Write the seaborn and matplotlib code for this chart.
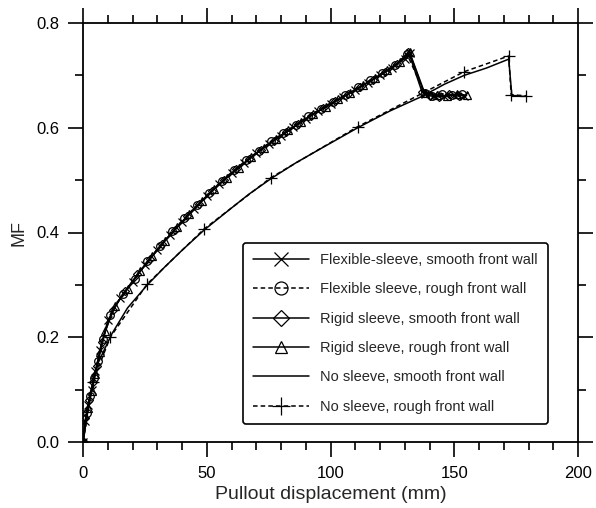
import matplotlib
matplotlib.use("Agg")
import matplotlib.pyplot as plt
import seaborn as sns
import pandas as pd
from matplotlib.ticker import MultipleLocator

# ---------------- data ----------------
labels = ["Flexible-sleeve, smooth front wall",
          "Flexible sleeve, rough front wall",
          "Rigid sleeve, smooth front wall",
          "Rigid sleeve, rough front wall",
          "No sleeve, smooth front wall",
          "No sleeve, rough front wall"]

flex_smooth_x = [0, 1, 2, 3.5, 5, 7, 10, 15, 20, 25, 30, 35, 40, 45, 50, 55, 60, 65, 70, 75, 80,
                 85, 90, 95, 100, 105, 110, 115, 120, 125, 130, 132, 138, 142, 146, 150, 154]
flex_smooth_y = [0.000, 0.040, 0.070, 0.100, 0.135, 0.175, 0.232, 0.274, 0.305, 0.338, 0.367,
                 0.395, 0.420, 0.445, 0.470, 0.492, 0.513, 0.532, 0.551, 0.569, 0.585, 0.601,
                 0.617, 0.632, 0.645, 0.659, 0.672, 0.686, 0.700, 0.715, 0.732, 0.742,
                 0.664, 0.662, 0.660, 0.663, 0.661]

flex_rough_x = [0, 1.5, 3, 4.5, 6, 8, 11, 16, 21, 26, 31, 36, 41, 46, 51, 56, 61, 66, 71, 76, 81,
                86, 91, 96, 101, 106, 111, 116, 121, 126, 131, 138, 141, 145, 149, 153]
flex_rough_y = [0.000, 0.055, 0.088, 0.122, 0.155, 0.197, 0.243, 0.282, 0.312, 0.345, 0.374,
                0.403, 0.427, 0.452, 0.476, 0.498, 0.519, 0.538, 0.556, 0.574, 0.590, 0.606,
                0.622, 0.636, 0.650, 0.663, 0.677, 0.691, 0.705, 0.720, 0.740,
                0.666, 0.660, 0.665, 0.662, 0.664]

rigid_smooth_x = [0, 1, 2.5, 4, 5.5, 7.5, 12, 17, 22, 27, 32, 37, 42, 47, 52, 57, 62, 67, 72, 77,
                  82, 87, 92, 97, 102, 107, 112, 117, 122, 127, 131.5, 137, 140, 144, 148, 152]
rigid_smooth_y = [0.000, 0.045, 0.080, 0.115, 0.145, 0.190, 0.252, 0.288, 0.320, 0.349, 0.378,
                  0.405, 0.431, 0.455, 0.479, 0.501, 0.521, 0.540, 0.558, 0.575, 0.591, 0.607,
                  0.623, 0.637, 0.651, 0.664, 0.678, 0.692, 0.706, 0.722, 0.745,
                  0.668, 0.661, 0.659, 0.664, 0.660]

rigid_rough_x = [0, 2, 3.5, 5, 7, 9, 13, 18, 23, 28, 33, 38, 43, 48, 53, 58, 63, 68, 73, 78, 83,
                 88, 93, 98, 103, 108, 113, 118, 123, 128, 132, 138, 143, 147, 151, 155]
rigid_rough_y = [0.000, 0.065, 0.098, 0.130, 0.172, 0.212, 0.260, 0.293, 0.326, 0.355, 0.384,
                 0.410, 0.435, 0.460, 0.483, 0.505, 0.524, 0.544, 0.562, 0.579, 0.595, 0.611,
                 0.626, 0.640, 0.654, 0.667, 0.681, 0.695, 0.710, 0.726, 0.744,
                 0.667, 0.663, 0.660, 0.665, 0.662]

nosl_smooth_x = [0, 3, 6, 11.6, 18, 26, 33, 40, 49, 59, 67, 76, 86, 96, 111, 124, 137, 146, 154,
                 163, 172, 173.3, 178.5]
nosl_smooth_y = [0.000, 0.090, 0.150, 0.206, 0.256, 0.300, 0.334, 0.366, 0.405, 0.443, 0.473,
                 0.503, 0.533, 0.560, 0.600, 0.632, 0.660, 0.683, 0.700, 0.714, 0.731, 0.660, 0.660]

nosl_rough_x = [0, 4, 11, 26, 49, 76, 111, 154, 172, 173, 179]
nosl_rough_y = [0.000, 0.115, 0.200, 0.302, 0.407, 0.505, 0.602, 0.707, 0.737, 0.663, 0.661]

x_ticks = [0, 50, 100, 150, 200]
y_ticks = [0.0, 0.2, 0.4, 0.6, 0.8]

# ---------------- styling ----------------
sns.set_style("ticks")
plt.rcParams["font.family"] = ["Liberation Sans", "DejaVu Sans"]

fig = plt.figure(figsize=(5.96, 5.08), dpi=100)
ax = fig.add_axes([83 / 596, 1 - 442 / 508, (578 - 83) / 596, (442 - 23) / 508])

dash = (0, (3, 2))
series = [
    (flex_smooth_x, flex_smooth_y, dict(marker="x", linestyle="-", markersize=6)),
    (flex_rough_x, flex_rough_y, dict(marker="o", linestyle=dash, markersize=5.5, mfc="none")),
    (rigid_smooth_x, rigid_smooth_y, dict(marker="D", linestyle="-", markersize=4.5, mfc="none")),
    (rigid_rough_x, rigid_rough_y, dict(marker="^", linestyle="-", markersize=5.5, mfc="none")),
    (nosl_smooth_x, nosl_smooth_y, dict(marker="", linestyle="-")),
    (nosl_rough_x, nosl_rough_y, dict(marker="+", linestyle=dash, markersize=8)),
]

for (xs, ys, kw), lab in zip(series, labels):
    df = pd.DataFrame({"x": xs, "y": ys})
    sns.lineplot(data=df, x="x", y="y", ax=ax, sort=False, estimator=None,
                 color="black", linewidth=1.1, mec="black", mew=0.9,
                 label=lab, legend=False, **kw)

ax.set_xlim(0, 200)
ax.set_ylim(0, 0.8)
ax.set_xticks(x_ticks)
ax.set_yticks(y_ticks)
ax.set_xticklabels([str(v) for v in x_ticks])
ax.set_yticklabels([f"{v:.1f}" for v in y_ticks])
ax.xaxis.set_minor_locator(MultipleLocator(10))
ax.yaxis.set_minor_locator(MultipleLocator(0.1))
ax.tick_params(which="both", direction="out", top=True, right=True,
               labeltop=False, labelright=False, colors="black", width=1.2)
ax.tick_params(which="major", length=11, labelsize=12, pad=6)
ax.tick_params(which="minor", length=5.5)
for s in ax.spines.values():
    s.set_linewidth(1.3)
    s.set_color("black")
    s.set_visible(True)

ax.set_xlabel("Pullout displacement (mm)", fontsize=14, labelpad=4)
ax.set_ylabel("MF", fontsize=13, labelpad=6)

handles, labs = ax.get_legend_handles_labels()
leg = ax.legend(handles, labs, loc="upper left", bbox_to_anchor=(0.323, 0.475),
                borderaxespad=0, fontsize=10.5, frameon=True, fancybox=True,
                handlelength=3.8, handletextpad=0.8, labelspacing=1.05,
                markerscale=1.7, borderpad=0.7)
leg.get_frame().set_edgecolor("black")
leg.get_frame().set_linewidth(1.2)
leg.get_frame().set_alpha(1)

fig.savefig("out.png", dpi=100)
